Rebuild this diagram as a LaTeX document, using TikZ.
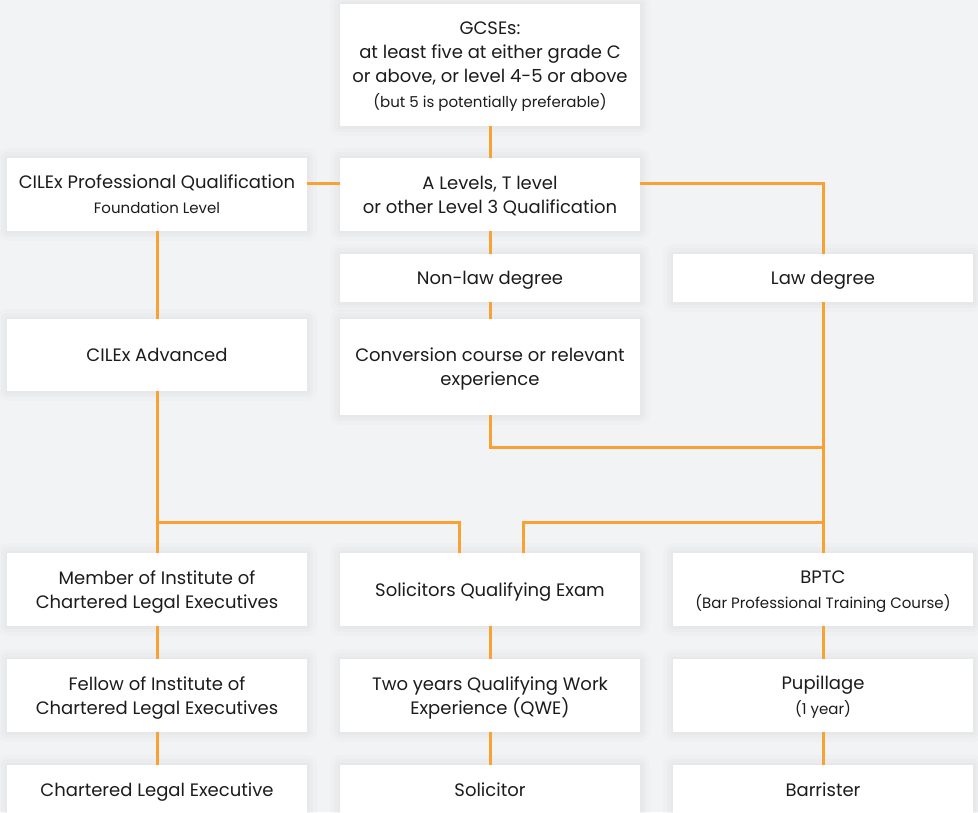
\documentclass[tikz,border=0pt]{standalone}
\usepackage{fontspec}
\setmainfont{Poppins}
\usetikzlibrary{calc}
\definecolor{bg}{HTML}{F2F3F5}
\definecolor{ln}{HTML}{F7A233}
\definecolor{tx}{HTML}{1C1C1C}
\newcommand{\sm}[1]{{\fontsize{15}{18}\selectfont #1}}
\tikzset{
  halo/.style={preaction={draw=black, draw opacity=0.012, line width=20pt, line join=round},
               preaction={draw=black, draw opacity=0.014, line width=12pt, line join=round},
               preaction={draw=black, draw opacity=0.016, line width=5pt, line join=round}},
  box/.style={fill=white, draw=none, minimum width=300pt, inner sep=0pt, align=center,
    text=tx, font=\fontsize{18}{24}\selectfont, text depth=0pt, halo},
  conn/.style={draw=ln, line width=3pt}
}
\begin{document}
\begin{tikzpicture}[x=1pt,y=1pt]
\fill[bg] (0,0) rectangle (978,-812);
\useasboundingbox (0,0) rectangle (978,-812);
\clip (0,0) rectangle (978,-812);
\coordinate (j1) at (823,-447);
\coordinate (j2) at (823,-522);
\coordinate (j3) at (157,-522);
% boxes
\node[box, minimum height=122pt] (gcse) at (490,-65) {GCSEs:\\ at least five at either grade C\\ or above, or level 4-5 or above\\[1pt] \sm{(but 5 is potentially preferable)}};
\node[box, minimum height=73pt] (cilex) at (157,-194.5) {CILEx Professional Qualification\\[1pt] \sm{Foundation Level}};
\node[box, minimum height=73pt] (alev) at (490,-194.5) {A Levels, T level\\ or other Level 3 Qualification};
\node[box, minimum height=48pt] (nonlaw) at (490,-278) {Non-law degree};
\node[box, minimum height=48pt] (law) at (823,-278) {Law degree};
\node[box, minimum height=72pt] (cadv) at (157,-355) {CILEx Advanced};
\node[box, minimum height=96pt] (conv) at (490,-367) {Conversion course or relevant\\ experience};
\node[box, minimum height=73pt] (member) at (157,-589.5) {Member of Institute of\\ Chartered Legal Executives};
\node[box, minimum height=73pt] (sqe) at (490,-589.5) {Solicitors Qualifying Exam};
\node[box, minimum height=73pt] (bptc) at (823,-589.5) {BPTC\\[1pt] \sm{(Bar Professional Training Course)}};
\node[box, minimum height=73pt] (fellow) at (157,-695.5) {Fellow of Institute of\\ Chartered Legal Executives};
\node[box, minimum height=73pt] (qwe) at (490,-695.5) {Two years Qualifying Work\\ Experience (QWE)};
\node[box, minimum height=73pt] (pup) at (823,-695.5) {Pupillage\\[1pt] \sm{(1 year)}};
\node[box, minimum height=50pt] (cle) at (157,-790) {Chartered Legal Executive};
\node[box, minimum height=50pt] (sol) at (490,-790) {Solicitor};
\node[box, minimum height=50pt] (bar) at (823,-790) {Barrister};
% connectors
\draw[conn] (gcse.south) -- (alev.north);
\draw[conn] ([yshift=11.5pt]cilex.east) -- ([yshift=11.5pt]alev.west);
\draw[conn] ([yshift=11.5pt]alev.east) -| (law.north);
\draw[conn] (alev.south) -- (nonlaw.north);
\draw[conn] (nonlaw.south) -- (conv.north);
\draw[conn] (cilex.south) -- (cadv.north);
\draw[conn] (cadv.south) -- (member.north);
\draw[conn] (law.south) -- (bptc.north);
\draw[conn] (conv.south) |- (j1);
\draw[conn] (j2) -| ([xshift=33pt]sqe.north);
\draw[conn] (j3) -| ([xshift=-31pt]sqe.north);
\draw[conn] (member.south) -- (fellow.north);
\draw[conn] (fellow.south) -- (cle.north);
\draw[conn] (sqe.south) -- (qwe.north);
\draw[conn] (qwe.south) -- (sol.north);
\draw[conn] (bptc.south) -- (pup.north);
\draw[conn] (pup.south) -- (bar.north);
\end{tikzpicture}
\end{document}
